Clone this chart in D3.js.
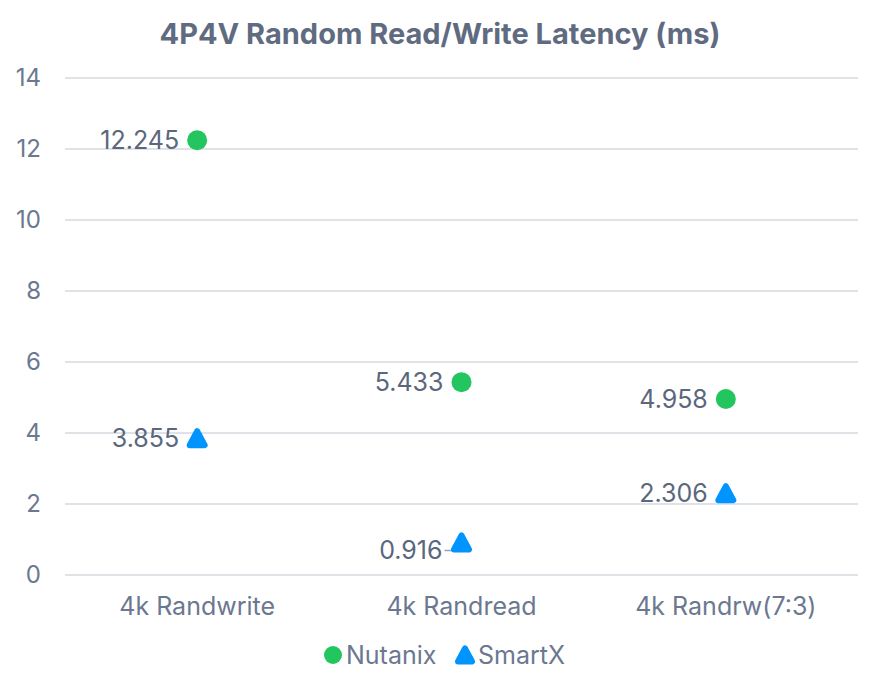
<!DOCTYPE html>
<html>
<head>
    <meta charset="utf-8">
    <title>4P4V Random Read/Write Latency</title>
    <script src="https://d3js.org/d3.v7.min.js"></script>
    <style>
        body { margin: 0; background: #fff; }
        svg text { font-family: Inter, "Noto Sans", sans-serif; }
        .grid line { stroke: #dfe3e8; stroke-width: 2; }
        .tick-label { fill: #6b7890; font-size: 24px; }
        .value-label { fill: #5a677c; font-size: 25px; }
    </style>
</head>
<body>
    <div id="chart"></div>

    <script>
        // data
        const categories = ["4k Randwrite", "4k Randread", "4k Randrw(7:3)"];
        const seriesNames = ["Nutanix", "SmartX"];
        const nutanix = [12.245, 5.433, 4.958];
        const smartx = [3.855, 0.916, 2.306];
        const yTicks = [0, 2, 4, 6, 8, 10, 12, 14];

        const colors = { "Nutanix": "#22c55e", "SmartX": "#0094ff" };

        const W = 880, H = 690;
        const margin = {top: 78, right: 22, bottom: 115, left: 65};
        const width = W - margin.left - margin.right;
        const height = H - margin.top - margin.bottom;

        const svg = d3.select("#chart")
            .append("svg")
            .attr("width", W)
            .attr("height", H);

        // title
        svg.append("text")
            .attr("x", W / 2)
            .attr("y", 44)
            .attr("text-anchor", "middle")
            .style("font-size", "29px")
            .style("font-weight", "bold")
            .style("fill", "#5f6b80")
            .text("4P4V Random Read/Write Latency (ms)");

        const g = svg.append("g")
            .attr("transform", `translate(${margin.left},${margin.top})`);

        const x = d3.scaleBand().domain(categories).range([0, width]);
        const y = d3.scaleLinear().domain([0, 14]).range([height, 0]);

        // grid lines
        g.append("g").attr("class", "grid")
            .selectAll("line")
            .data(yTicks)
            .join("line")
            .attr("x1", 0).attr("x2", width)
            .attr("y1", d => y(d)).attr("y2", d => y(d));

        // y tick labels
        g.append("g")
            .selectAll("text")
            .data(yTicks)
            .join("text")
            .attr("class", "tick-label")
            .attr("x", -24)
            .attr("y", d => y(d))
            .attr("dy", "0.35em")
            .attr("text-anchor", "end")
            .text(d => d);

        // x category labels
        g.append("g")
            .selectAll("text")
            .data(categories)
            .join("text")
            .attr("class", "tick-label")
            .attr("x", d => x(d) + x.bandwidth() / 2)
            .attr("y", height + 40)
            .attr("text-anchor", "middle")
            .style("font-size", "25px")
            .text(d => d);

        // rounded triangle: fill + round-joined stroke of the same colour
        function addTriangle(sel, s, color) {
            const w = s - 6, h = s - 7;
            sel.append("path")
                .attr("d", `M0,${-h / 2}L${w / 2},${h / 2}L${-w / 2},${h / 2}Z`)
                .attr("fill", color)
                .attr("stroke", color)
                .attr("stroke-width", 6)
                .attr("stroke-linejoin", "round");
        }

        const points = [];
        categories.forEach((c, i) => {
            points.push({series: "Nutanix", cat: c, value: nutanix[i]});
            points.push({series: "SmartX", cat: c, value: smartx[i]});
        });

        // label nudge where labels would crowd the axis
        const labelNudge = {"SmartX|4k Randread": 8};

        const pts = g.append("g")
            .selectAll("g")
            .data(points)
            .join("g")
            .attr("transform", d => `translate(${x(d.cat) + x.bandwidth() / 2},${y(d.value)})`);

        pts.each(function(d) {
            const p = d3.select(this);
            const dy = labelNudge[d.series + "|" + d.cat] || 0;
            if (dy) {
                p.append("path")
                    .attr("d", `M-17,${dy}L-9,${dy}L-3,1`)
                    .attr("fill", "none")
                    .attr("stroke", "#9aa3af")
                    .attr("stroke-width", 1.5);
            }
            if (d.series === "Nutanix") {
                p.append("circle").attr("r", 10).attr("fill", colors.Nutanix);
            } else {
                addTriangle(p, 21, colors.SmartX);
            }
            p.append("text")
                .attr("class", "value-label")
                .attr("x", dy ? -19 : -18)
                .attr("y", dy)
                .attr("dy", "0.35em")
                .attr("text-anchor", "end")
                .text(d3.format(".3f")(d.value));
        });

        // legend
        const legend = svg.append("g").attr("transform", `translate(0, 655)`);
        const legendItems = [
            {name: "Nutanix", x: 333},
            {name: "SmartX", x: 465}
        ];
        legendItems.forEach(item => {
            const row = legend.append("g").attr("transform", `translate(${item.x},0)`);
            if (item.name === "Nutanix") {
                row.append("circle").attr("r", 9).attr("fill", colors.Nutanix);
            } else {
                addTriangle(row, 20, colors.SmartX);
            }
            row.append("text")
                .attr("class", "tick-label")
                .attr("x", 13)
                .attr("dy", "0.35em")
                .style("font-size", "25px")
                .text(item.name);
        });
    </script>
</body>
</html>
